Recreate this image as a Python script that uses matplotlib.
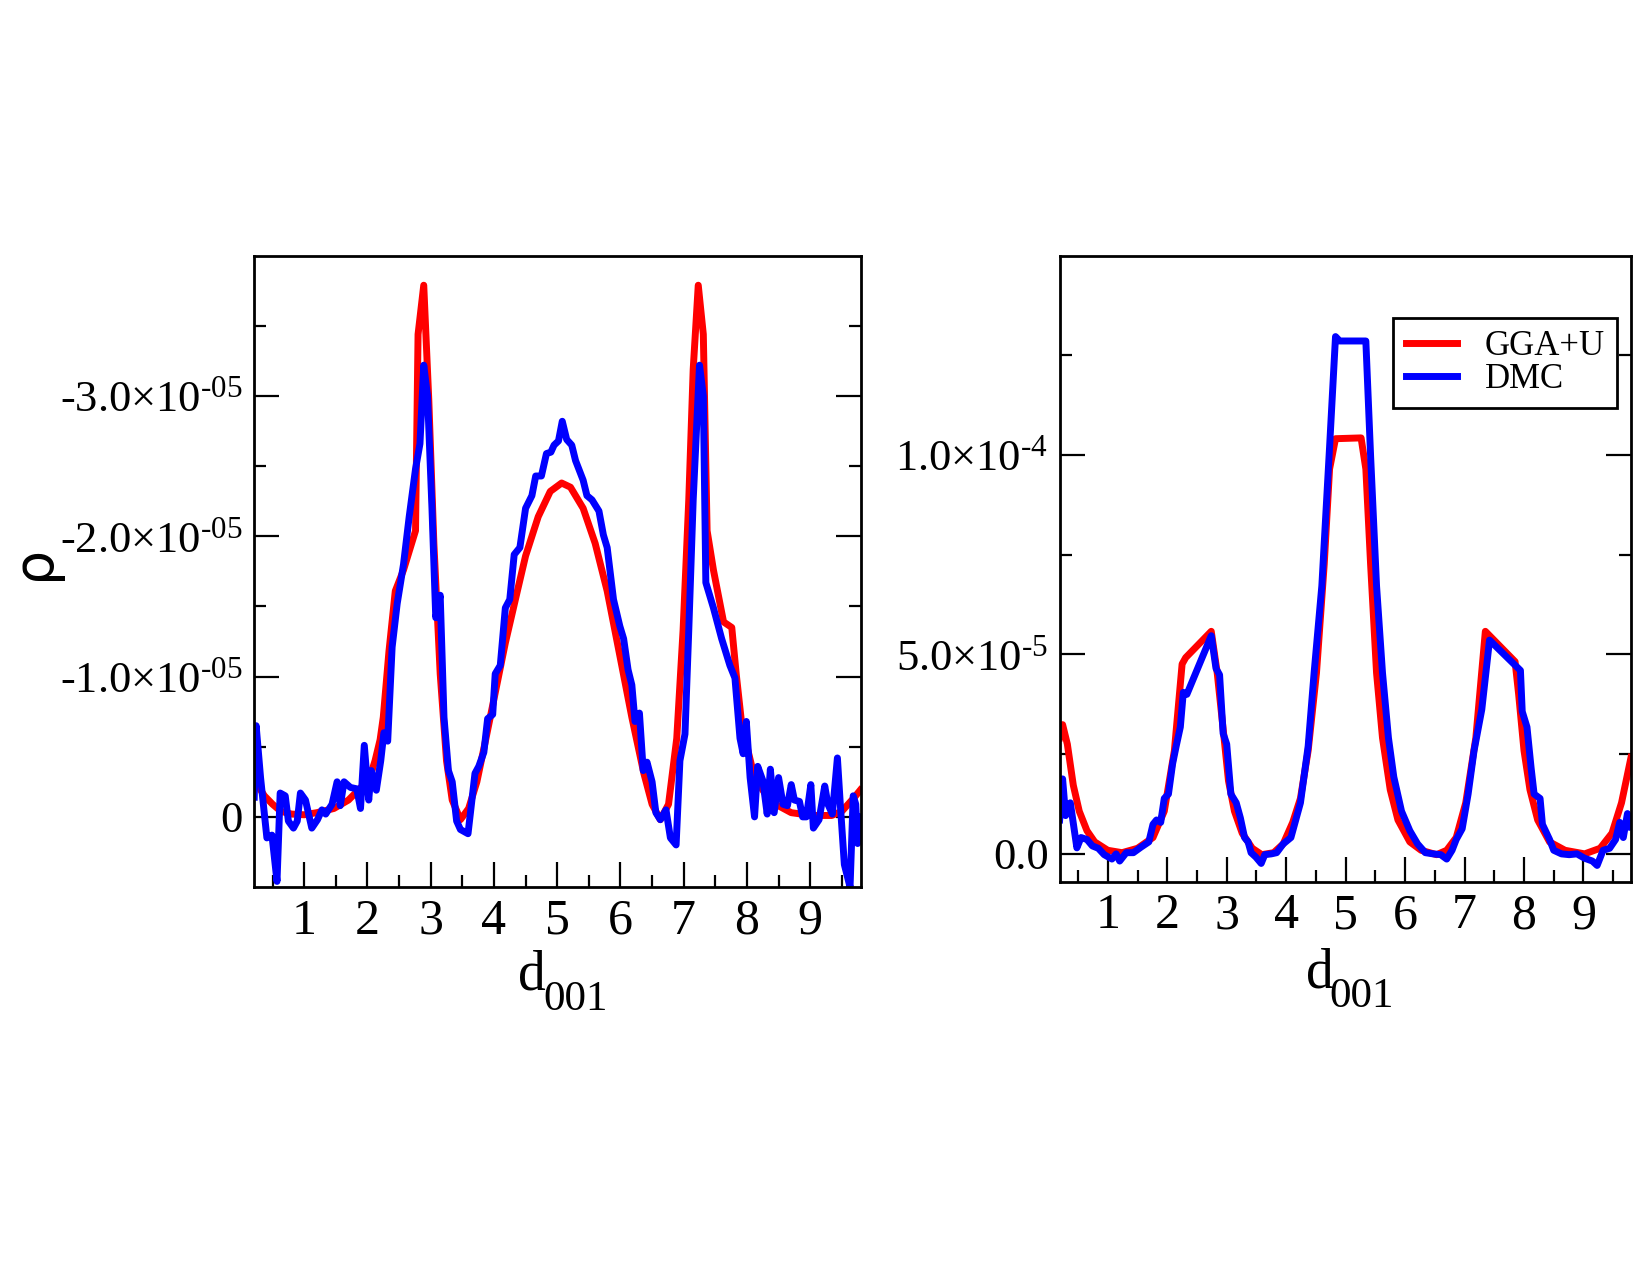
import numpy as np
import matplotlib
matplotlib.use("Agg")
import matplotlib.pyplot as plt
from matplotlib.ticker import FixedLocator

plt.rcParams['font.family'] = ['Liberation Serif', 'DejaVu Serif']
plt.rcParams['mathtext.fontset'] = 'custom'
plt.rcParams['mathtext.rm'] = 'Liberation Serif'
plt.rcParams['mathtext.it'] = 'Liberation Serif:italic'

# --- left panel: rho along d001 (units of 1e-5, negative values) ---
x_gga_l = [0.21, 0.3, 0.37, 0.5, 0.63, 0.8, 1.0, 1.2, 1.47, 1.7, 1.92, 2.05, 2.12, 2.2,
           2.25, 2.34, 2.44, 2.57, 2.76, 2.8, 2.89, 2.97, 3.05, 3.15, 3.25, 3.34, 3.47,
           3.6, 3.73, 3.86, 4.0, 4.18, 4.37, 4.5, 4.7, 4.89, 5.07, 5.21, 5.41, 5.6, 5.79,
           5.99, 6.18, 6.37, 6.5, 6.63, 6.76, 6.89, 6.99, 7.08, 7.15, 7.23, 7.31, 7.37,
           7.47, 7.63, 7.76, 7.83, 7.92, 8.12, 8.37, 8.7, 9.02, 9.34, 9.5, 9.6, 9.7, 9.79]
y_gga_l = [-0.28, -0.2, -0.15, -0.09, -0.04, -0.02, -0.015, -0.03, -0.06, -0.12, -0.22,
           -0.3, -0.40, -0.55, -0.71, -1.18, -1.61, -1.76, -2.04, -3.44, -3.79, -2.97,
           -1.95, -1.02, -0.40, -0.12, 0.02, -0.06, -0.25, -0.53, -0.84, -1.24, -1.61,
           -1.86, -2.14, -2.32, -2.38, -2.35, -2.20, -1.95, -1.61, -1.15, -0.71, -0.31,
           -0.09, 0.02, -0.09, -0.56, -1.33, -2.26, -3.19, -3.79, -3.44, -2.04, -1.76,
           -1.39, -1.35, -1.02, -0.65, -0.28, -0.11, -0.03, -0.01, -0.01, -0.04, -0.09,
           -0.14, -0.19]

x_dmc_l = [0.21, 0.24, 0.31, 0.41, 0.49, 0.57, 0.62, 0.7, 0.75, 0.83, 0.89, 0.94, 1.02,
           1.12, 1.21, 1.28, 1.34, 1.44, 1.52, 1.57, 1.63, 1.73, 1.83, 1.89, 1.95, 2.02,
           2.06, 2.14, 2.21, 2.26, 2.32, 2.39, 2.47, 2.57, 2.66, 2.76, 2.83, 2.89, 2.95,
           3.02, 3.08, 3.15, 3.21, 3.28, 3.34, 3.41, 3.47, 3.59, 3.7, 3.76, 3.84, 3.9,
           3.98, 4.02, 4.1, 4.18, 4.25, 4.32, 4.41, 4.5, 4.6, 4.66, 4.75, 4.83, 4.9, 4.95,
           5.02, 5.08, 5.15, 5.23, 5.29, 5.41, 5.47, 5.55, 5.66, 5.73, 5.79, 5.89, 5.99,
           6.05, 6.12, 6.18, 6.23, 6.3, 6.36, 6.42, 6.5, 6.56, 6.63, 6.72, 6.79, 6.88,
           6.94, 7.02, 7.08, 7.15, 7.25, 7.31, 7.35, 7.47, 7.6, 7.73, 7.81, 7.89, 7.94,
           7.99, 8.05, 8.12, 8.17, 8.25, 8.32, 8.37, 8.43, 8.5, 8.57, 8.64, 8.7, 8.75,
           8.83, 8.88, 8.94, 9.01, 9.05, 9.14, 9.23, 9.28, 9.35, 9.43, 9.48, 9.54, 9.63,
           9.68, 9.72, 9.75, 9.8]
y_dmc_l = [-0.14, -0.65, -0.28, 0.15, 0.13, 0.46, -0.17, -0.15, 0.03, 0.08, 0.03, -0.17,
           -0.12, 0.08, 0.02, -0.05, -0.02, -0.09, -0.25, -0.08, -0.25, -0.21, -0.20,
           -0.06, -0.51, -0.12, -0.33, -0.19, -0.40, -0.60, -0.54, -1.21, -1.52, -1.80,
           -2.14, -2.48, -2.66, -3.22, -3.00, -2.20, -1.42, -1.58, -0.71, -0.33, -0.25,
           0.03, 0.09, 0.12, -0.31, -0.36, -0.46, -0.70, -0.73, -1.02, -1.08, -1.49,
           -1.55, -1.87, -1.92, -2.20, -2.29, -2.43, -2.43, -2.59, -2.60, -2.65, -2.68,
           -2.82, -2.69, -2.65, -2.54, -2.40, -2.29, -2.26, -2.18, -2.01, -1.92, -1.55,
           -1.36, -1.27, -1.05, -0.94, -0.68, -0.74, -0.33, -0.39, -0.25, -0.03, 0.02,
           -0.05, 0.15, 0.20, -0.40, -0.59, -1.33, -2.26, -3.22, -3.00, -1.67, -1.49,
           -1.27, -1.08, -0.99, -0.56, -0.45, -0.68, -0.28, 0.00, -0.36, -0.26, -0.02,
           -0.34, -0.03, -0.28, -0.09, -0.08, -0.23, -0.12, -0.11, 0.00, 0.00, -0.23,
           0.08, 0.02, -0.22, -0.09, -0.02, -0.42, -0.06, 0.34, 0.50, -0.15, -0.09, 0.19,
           0.00]

# --- right panel (units of 1e-5) ---
x_gga_r = [0.19, 0.24, 0.32, 0.42, 0.52, 0.65, 0.78, 1.0, 1.24, 1.5, 1.76, 1.95, 2.12,
           2.25, 2.31, 2.74, 2.84, 2.94, 3.03, 3.13, 3.26, 3.43, 3.59, 3.79, 3.95, 4.11,
           4.24, 4.37, 4.51, 4.64, 4.73, 4.83, 5.26, 5.34, 5.42, 5.52, 5.62, 5.75, 5.88,
           6.08, 6.27, 6.53, 6.7, 6.86, 7.02, 7.19, 7.35, 7.85, 7.91, 8.0, 8.1, 8.23,
           8.43, 8.69, 9.02, 9.28, 9.48, 9.64, 9.8]
y_gga_r = [2.91, 3.24, 2.75, 1.72, 1.07, 0.58, 0.30, 0.09, 0.03, 0.14, 0.41, 1.07, 2.59,
           4.76, 4.92, 5.58, 4.54, 3.13, 1.83, 1.07, 0.52, 0.14, -0.02, 0.03, 0.25, 0.79,
           1.39, 2.59, 4.54, 7.26, 9.65, 10.41, 10.43, 9.65, 7.26, 4.54, 2.91, 1.61, 0.85,
           0.30, 0.09, -0.02, 0.09, 0.41, 1.28, 2.91, 5.58, 4.82, 4.0, 2.59, 1.61, 0.85,
           0.30, 0.09, 0.0, 0.14, 0.52, 1.28, 2.42]

x_dmc_r = [0.19, 0.24, 0.29, 0.37, 0.48, 0.55, 0.65, 0.74, 0.84, 0.94, 1.07, 1.14, 1.2,
           1.31, 1.43, 1.56, 1.69, 1.76, 1.82, 1.89, 1.95, 2.02, 2.09, 2.15, 2.22, 2.27,
           2.33, 2.74, 2.82, 2.88, 2.94, 3.0, 3.07, 3.16, 3.23, 3.3, 3.36, 3.41, 3.49,
           3.58, 3.64, 3.75, 3.84, 3.95, 4.08, 4.15, 4.24, 4.37, 4.47, 4.6, 4.73, 4.83,
           4.9, 5.34, 5.42, 5.52, 5.62, 5.72, 5.81, 5.94, 6.08, 6.21, 6.34, 6.47, 6.6,
           6.7, 6.79, 6.86, 6.96, 7.06, 7.16, 7.29, 7.42, 7.94, 7.97, 8.05, 8.12, 8.17,
           8.27, 8.31, 8.43, 8.5, 8.63, 8.76, 8.89, 9.02, 9.15, 9.23, 9.33, 9.44, 9.54,
           9.61, 9.67, 9.74, 9.8]
y_dmc_r = [0.85, 1.88, 0.96, 1.28, 0.15, 0.41, 0.36, 0.20, 0.14, -0.02, -0.13, 0.0,
           -0.18, 0.03, 0.03, 0.17, 0.30, 0.74, 0.85, 0.79, 1.39, 1.5, 2.26, 2.70, 3.18,
           4.05, 4.0, 5.47, 4.65, 4.49, 3.02, 2.75, 1.5, 1.28, 0.90, 0.41, 0.30, 0.03,
           -0.08, -0.24, -0.02, 0.0, 0.03, 0.25, 0.41, 0.79, 1.28, 2.70, 4.54, 6.72,
           10.2, 12.97, 12.86, 12.86, 9.98, 6.72, 4.54, 2.91, 1.93, 1.07, 0.58, 0.25,
           0.03, 0.0, -0.02, -0.13, 0.09, 0.36, 0.63, 1.5, 2.59, 3.62, 5.36, 4.60, 3.57,
           3.18, 2.15, 1.5, 1.39, 0.74, 0.36, 0.09, 0.0, -0.02, 0.0, -0.11, -0.18, -0.29,
           0.09, 0.14, 0.36, 0.79, 0.41, 1.01, 0.68]

RED = '#ff0000'
BLUE = '#0000ff'
LW = 5

fig = plt.figure(figsize=(16.5, 12.75), dpi=100)
ax1 = fig.add_axes([0.1537, 0.3043, 0.3680, 0.4951])
ax2 = fig.add_axes([0.6422, 0.3084, 0.3463, 0.4911])

ax1.plot(x_gga_l, np.array(y_gga_l) * 1e-5, color=RED, lw=LW)
ax1.plot(x_dmc_l, np.array(y_dmc_l) * 1e-5, color=BLUE, lw=LW)
ax2.plot(x_gga_r, np.array(y_gga_r) * 1e-5, color=RED, lw=LW, label='GGA+U')
ax2.plot(x_dmc_r, np.array(y_dmc_r) * 1e-5, color=BLUE, lw=LW, label='DMC')

ax1.set_xlim(0.2, 9.8)
ax1.set_ylim(0.5e-5, -4.0e-5)
ax2.set_xlim(0.19, 9.8)
ax2.set_ylim(-0.7e-5, 1.5e-4)

xt = list(range(1, 10))
xminor = [0.5 + i for i in range(10)]
for ax in (ax1, ax2):
    ax.set_xticks(xt, [str(v) for v in xt])
    ax.xaxis.set_minor_locator(FixedLocator(xminor))
    ax.tick_params(which='both', direction='in', top=False, right=True, width=1.6)
    ax.tick_params(which='major', length=18)
    ax.tick_params(which='minor', length=8.5)
    ax.tick_params(axis='x', labelsize=36, pad=8)
    ax.tick_params(axis='y', labelsize=32, pad=8)
    for s in ax.spines.values():
        s.set_linewidth(2)

HY = '\u2010'
ax1.set_yticks([0, -1e-5, -2e-5, -3e-5],
               ['0', f'-1.0×10$^{{{HY}05}}$', f'-2.0×10$^{{{HY}05}}$', f'-3.0×10$^{{{HY}05}}$'])
ax1.yaxis.set_minor_locator(FixedLocator([-0.5e-5, -1.5e-5, -2.5e-5, -3.5e-5]))
ax2.set_yticks([0, 5e-5, 1e-4], ['0.0', f'5.0×10$^{{{HY}5}}$', f'1.0×10$^{{{HY}4}}$'])
ax2.yaxis.set_minor_locator(FixedLocator([2.5e-5, 7.5e-5, 1.25e-4]))

leg = ax2.legend(loc='upper right', bbox_to_anchor=(0.975, 0.9005), borderaxespad=0,
                 fontsize=25, handlelength=1.47, handletextpad=0.8, labelspacing=0.0,
                 borderpad=0.35, fancybox=False, framealpha=1, edgecolor='black')
leg.get_frame().set_linewidth(2)

# axis labels
fig.text(34 / 1650, 1 - 562 / 1275, 'ρ', rotation=90, fontsize=40,
         ha='center', va='center', family='DejaVu Sans')
for xd, xs, yb, ys in [(518, 543, 989, 1010), (1306, 1329, 987, 1007)]:
    fig.text(xd / 1650, 1 - yb / 1275, 'd', fontsize=40, ha='left', va='baseline')
    fig.text(xs / 1650, 1 - ys / 1275, '001', fontsize=31, ha='left', va='baseline')

plt.savefig('out.png', dpi=100)
